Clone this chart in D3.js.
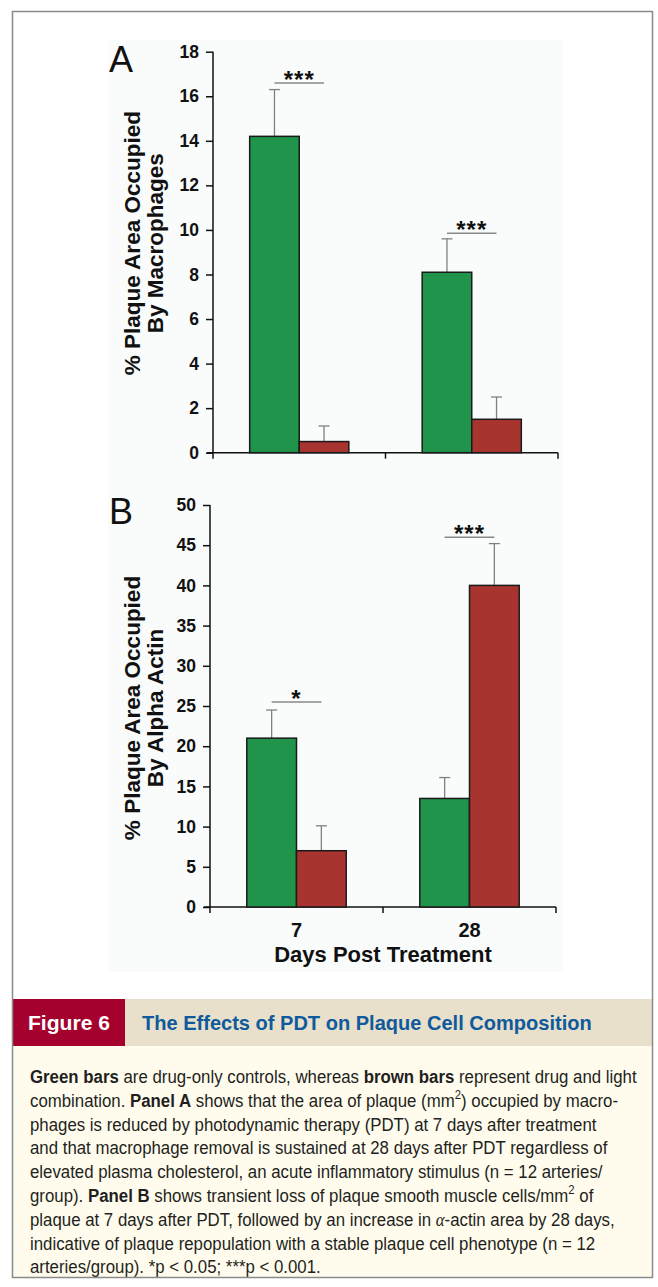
<!DOCTYPE html>
<html>
<head>
<meta charset="utf-8">
<script src="https://cdn.jsdelivr.net/npm/d3@7"></script>
<style>
body { margin: 0; background: #fff; }
svg text { font-family: "Liberation Sans", Arial, sans-serif; }
</style>
</head>
<body>
<div id="svg-area"></div>
<script>
// chart values
var days = ["7", "28"];
var series = ["drug", "drugLight"];
var seriesColors = ["#1f944a", "#a83430"];

// panel A: % plaque area occupied by macrophages
var macroDrug = [14.2, 8.1];
var macroDrugErr = [2.1, 1.5];
var macroLight = [0.5, 1.5];
var macroLightErr = [0.7, 1.0];
var macroSig = ["***", "***"];
var macroSigLevel = [16.6, 9.85];
var macroTicks = [0, 2, 4, 6, 8, 10, 12, 14, 16, 18];

// panel B: % plaque area occupied by alpha actin
var actinDrug = [21.0, 13.5];
var actinDrugErr = [3.5, 2.6];
var actinLight = [7.0, 40.0];
var actinLightErr = [3.1, 5.2];
var actinSig = ["*", "***"];
var actinSigLevel = [25.5, 46.0];
var actinTicks = [0, 5, 10, 15, 20, 25, 30, 35, 40, 45, 50];

var captionLines = [
    [["b", "Green bars"], ["", " are drug-only controls, whereas "], ["b", "brown bars"], ["", " represent drug and light"]],
    [["", "combination. "], ["b", "Panel A"], ["", " shows that the area of plaque (mm"], ["sup", "2"], ["", ") occupied by macro-"]],
    [["", "phages is reduced by photodynamic therapy (PDT) at 7 days after treatment"]],
    [["", "and that macrophage removal is sustained at 28 days after PDT regardless of"]],
    [["", "elevated plasma cholesterol, an acute inflammatory stimulus (n = 12 arteries/"]],
    [["", "group). "], ["b", "Panel B"], ["", " shows transient loss of plaque smooth muscle cells/mm"], ["sup", "2"], ["", " of"]],
    [["", "plaque at 7 days after PDT, followed by an increase in "], ["i", "\u03b1"], ["", "-actin area by 28 days,"]],
    [["", "indicative of plaque repopulation with a stable plaque cell phenotype (n = 12"]],
    [["", "arteries/group). *p < 0.05; ***p < 0.001."]]
];

var svgWidth = 658;
var svgHeight = 1287;

var svg = d3.select("#svg-area")
    .append("svg")
    .attr("width", svgWidth)
    .attr("height", svgHeight)
;

svg.append("rect")
    .attr("width", svgWidth)
    .attr("height", svgHeight)
    .attr("fill", "#fff")
;

// faint backdrop of the pasted chart image
svg.append("rect")
    .attr("x", 108).attr("y", 40)
    .attr("width", 455).attr("height", 932)
    .attr("fill", "#fafbfb")
;

function drawPanel(p) {
    var yMax = p.ticks[p.ticks.length - 1];

    var x0 = d3.scaleBand()
        .domain(days)
        .range(p.xRange)
    ;
    var x1 = d3.scaleBand()
        .domain(series)
        .range([0, x0.bandwidth()])
        .paddingOuter(0.74)
    ;
    var y = d3.scaleLinear()
        .domain([0, yMax])
        .range(p.yRange)
    ;

    var g = svg.append("g");

    // y axis, ticks pointing left
    var yAxis = g.append("g")
        .attr("transform", `translate(${p.xRange[0]}, 0)`)
        .call(d3.axisLeft(y).tickValues(p.ticks).tickSize(7).tickPadding(7).tickSizeOuter(0))
    ;
    yAxis.select(".domain").remove();
    yAxis.attr("font-size", 17.5)
        .attr("font-family", "Liberation Sans, Arial, sans-serif")
        .attr("font-weight", "bold")
        .attr("color", "#111")
    ;
    yAxis.selectAll("line").attr("stroke-width", 1.5);

    g.append("line")
        .attr("x1", p.xRange[0]).attr("x2", p.xRange[0])
        .attr("y1", y(yMax)).attr("y2", y(0) + 6)
        .attr("stroke", "#111").attr("stroke-width", 1.5)
    ;
    g.append("line")
        .attr("x1", p.xRange[0] - 6).attr("x2", p.xRange[1])
        .attr("y1", y(0)).attr("y2", y(0))
        .attr("stroke", "#111").attr("stroke-width", 1.5)
    ;
    // x ticks sit on the band edges
    g.selectAll(".xtick")
        .data(days)
        .enter()
        .append("line")
        .attr("x1", d => x0(d) + x0.bandwidth())
        .attr("x2", d => x0(d) + x0.bandwidth())
        .attr("y1", y(0)).attr("y2", y(0) + 6)
        .attr("stroke", "#111").attr("stroke-width", 1.5)
    ;

    var bars = [];
    days.forEach(function(d, i) {
        bars.push({day: d, s: series[0], v: p.drug[i], e: p.drugErr[i], c: seriesColors[0]});
        bars.push({day: d, s: series[1], v: p.light[i], e: p.lightErr[i], c: seriesColors[1]});
    });

    var barGroup = g.selectAll(".bar")
        .data(bars)
        .enter()
        .append("g")
        .attr("transform", d => `translate(${x0(d.day)}, 0)`)
    ;

    // error bars (upper only)
    barGroup.append("line")
        .attr("x1", d => x1(d.s) + x1.bandwidth() / 2)
        .attr("x2", d => x1(d.s) + x1.bandwidth() / 2)
        .attr("y1", d => y(d.v))
        .attr("y2", d => y(d.v + d.e))
        .attr("stroke", "#808080").attr("stroke-width", 1.3)
    ;
    barGroup.append("line")
        .attr("x1", d => x1(d.s) + x1.bandwidth() / 2 - 5.5)
        .attr("x2", d => x1(d.s) + x1.bandwidth() / 2 + 5.5)
        .attr("y1", d => y(d.v + d.e))
        .attr("y2", d => y(d.v + d.e))
        .attr("stroke", "#808080").attr("stroke-width", 1.3)
    ;

    barGroup.append("rect")
        .attr("x", d => x1(d.s))
        .attr("y", d => y(d.v))
        .attr("width", x1.bandwidth())
        .attr("height", d => y(0) - y(d.v))
        .attr("fill", d => d.c)
        .attr("stroke", "#1a1a1a")
        .attr("stroke-width", 1.5)
    ;

    // significance markers
    var sig = g.selectAll(".sig")
        .data(days)
        .enter()
        .append("g")
        .attr("transform", d => `translate(${x0(d)}, 0)`)
    ;
    sig.append("line")
        .attr("x1", x1(series[0]) + x1.bandwidth() / 2)
        .attr("x2", x1(series[1]) + x1.bandwidth() / 2)
        .attr("y1", (d, i) => y(p.sigLevel[i]))
        .attr("y2", (d, i) => y(p.sigLevel[i]))
        .attr("stroke", "#888").attr("stroke-width", 1.5)
    ;
    sig.append("text")
        .attr("x", x1(series[1]))
        .attr("y", (d, i) => y(p.sigLevel[i]) + 5)
        .attr("text-anchor", "middle")
        .attr("font-size", 24)
        .attr("font-weight", "bold")
        .attr("letter-spacing", 1)
        .attr("fill", "#111")
        .text((d, i) => p.sig[i])
    ;

    // panel letter
    svg.append("text")
        .attr("x", 109)
        .attr("y", p.letterY)
        .attr("font-size", 36)
        .attr("fill", "#111")
        .text(p.letter)
    ;

    // y title, two lines
    var yMid = (p.yRange[0] + p.yRange[1]) / 2 + p.titleShift;
    p.yTitle.forEach(function(t, i) {
        svg.append("text")
            .attr("transform", `translate(${140 + i * 23}, ${yMid}) rotate(-90)`)
            .attr("text-anchor", "middle")
            .attr("font-size", 22.5)
            .attr("font-weight", "bold")
            .attr("fill", "#111")
            .text(t)
        ;
    });

    if (p.showX) {
        g.selectAll(".xlab")
            .data(days)
            .enter()
            .append("text")
            .attr("x", d => x0(d) + x0.bandwidth() / 2)
            .attr("y", y(0) + 30)
            .attr("text-anchor", "middle")
            .attr("font-size", 20)
            .attr("font-weight", "bold")
            .attr("fill", "#111")
            .text(d => d)
        ;
        g.append("text")
            .attr("x", (p.xRange[0] + p.xRange[1]) / 2)
            .attr("y", y(0) + 55)
            .attr("text-anchor", "middle")
            .attr("font-size", 22)
            .attr("font-weight", "bold")
            .attr("fill", "#111")
            .text("Days Post Treatment")
        ;
    }
}

drawPanel({
    letter: "A", letterY: 72,
    xRange: [213, 558], yRange: [452.7, 51.7],
    ticks: macroTicks,
    drug: macroDrug, drugErr: macroDrugErr,
    light: macroLight, lightErr: macroLightErr,
    sig: macroSig, sigLevel: macroSigLevel,
    yTitle: ["% Plaque Area Occupied", "By Macrophages"], titleShift: -9,
    showX: false
});

drawPanel({
    letter: "B", letterY: 524,
    xRange: [210, 556], yRange: [907, 505],
    ticks: actinTicks,
    drug: actinDrug, drugErr: actinDrugErr,
    light: actinLight, lightErr: actinLightErr,
    sig: actinSig, sigLevel: actinSigLevel,
    yTitle: ["% Plaque Area Occupied", "By Alpha Actin"], titleShift: 2,
    showX: true
});

// caption box
svg.append("rect")
    .attr("x", 13).attr("y", 1046)
    .attr("width", 640).attr("height", 232)
    .attr("fill", "#fffcee")
;
svg.append("rect")
    .attr("x", 13).attr("y", 999)
    .attr("width", 640).attr("height", 47)
    .attr("fill", "#e8e0ca")
;
svg.append("rect")
    .attr("x", 13).attr("y", 999)
    .attr("width", 112).attr("height", 47)
    .attr("fill", "#a5012e")
;

// squeeze a text node to a target width (condensed caption face)
function fitText(sel, x, y, w) {
    var len = sel.node().getComputedTextLength();
    sel.attr("transform", `translate(${x}, ${y}) scale(${w / len}, 1)`);
}

var figLabel = svg.append("text")
    .attr("font-size", 21).attr("font-weight", "bold").attr("fill", "#fff")
    .text("Figure 6");
fitText(figLabel, 28, 1030, 82);

var figTitle = svg.append("text")
    .attr("font-size", 21).attr("font-weight", "bold").attr("fill", "#0e5a9c")
    .text("The Effects of PDT on Plaque Cell Composition");
fitText(figTitle, 142, 1030, 450);

var cap = svg.append("g");
var capLines = cap.selectAll("text")
    .data(captionLines)
    .enter()
    .append("text")
    .attr("x", 0)
    .attr("y", (d, i) => 1083 + i * 23.8)
    .attr("font-size", 18.5)
    .attr("fill", "#231f20")
;
capLines.each(function(segs) {
    var t = d3.select(this);
    var raised = false;
    segs.forEach(function(s) {
        var ts = t.append("tspan").text(s[1]);
        if (s[0] == "b") ts.attr("font-weight", "bold");
        if (s[0] == "i") ts.attr("font-style", "italic").attr("font-family", "Liberation Serif, serif");
        if (s[0] == "sup") {
            ts.attr("font-size", 12.5).attr("dy", -7.5);
            raised = true;
        } else if (raised) {
            ts.attr("dy", 7.5);
            raised = false;
        }
    });
});
var firstLen = capLines.node().getComputedTextLength();
cap.attr("transform", `translate(30, 0) scale(${607 / firstLen}, 1)`);

// outer frame
svg.append("rect")
    .attr("x", 12.5).attr("y", 11.5)
    .attr("width", 640).attr("height", 1266)
    .attr("fill", "none")
    .attr("stroke", "#8a8a8a")
    .attr("stroke-width", 1.5)
;
</script>
</body>
</html>
